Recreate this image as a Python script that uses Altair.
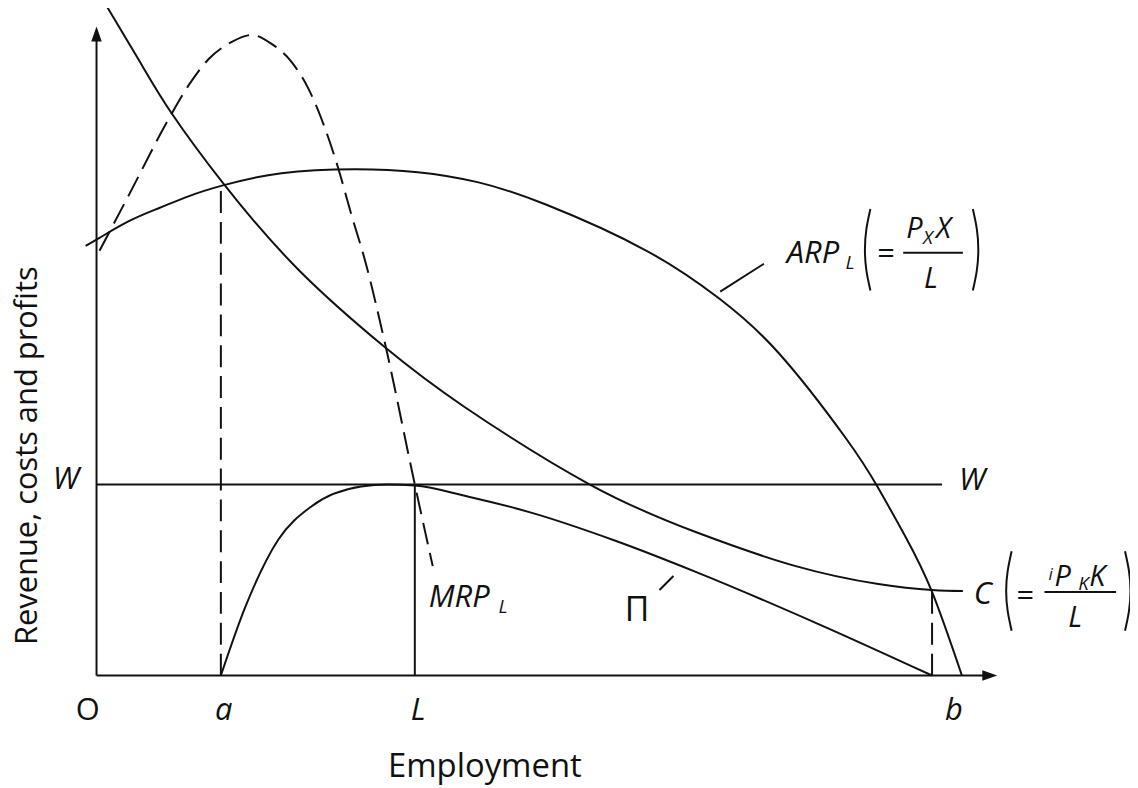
import altair as alt
import pandas as pd

# ---- curve data: employment (x) and revenue/cost value (y) ----
C_EMP = [6, 43, 75, 128, 203, 290, 370, 496, 603, 703, 786, 840, 871]
C_VAL = [680, 618, 566, 494, 408, 330, 270, 192, 144, 110, 92, 86, 85]
ARP_EMP = [-11, 3, 33, 63, 93, 128, 186, 260, 323, 383, 453, 553, 626, 686, 753, 785, 813, 840, 870]
ARP_VAL = [432, 440, 457, 470, 482, 493, 505, 509, 506, 496, 473, 427, 379, 324, 239, 190, 140, 84, 0]
MRP_EMP = [3, 33, 75, 93, 113, 136, 156, 176, 196, 213, 226, 243, 256, 270, 290, 320, 338]
MRP_VAL = [427, 484, 564, 594, 620, 637, 644, 635, 617, 590, 560, 510, 464, 417, 334, 192, 110]
PI_EMP = [125, 150, 183, 216, 266, 293, 320, 373, 436, 523, 603, 723, 840]
PI_VAL = [0, 70, 137, 170, 190, 192, 191, 180, 164, 135, 104, 53, 0]
W_LEVEL = 192
A_EMP, L_EMP, B_EMP = 125, 320, 840
A_TOP = 492      # ARP at a
B_TOP = 86       # C at b
X_AXIS_END = 893
Y_AXIS_END = 645

# straight segments: (id, emp0, val0, emp1, val1)
SOLID_SEGS = [
    ("yaxis", 0, 0, 0, Y_AXIS_END),
    ("xaxis", 0, 0, X_AXIS_END, 0),
    ("W", 0, W_LEVEL, 850, W_LEVEL),
    ("Lvert", L_EMP, 0, L_EMP, W_LEVEL),
    ("arp_lead", 627, 386, 671, 414),
    ("pi_lead", 566, 86, 580, 100),
    ("frac1", 811, 425, 871, 425),
    ("frac2", 953, 84, 1025, 84),
]
DASH_SEGS = [
    ("avert", A_EMP, 0, A_EMP, A_TOP),
    ("bvert", B_EMP, 0, B_EMP, B_TOP),
]
# parentheses drawn as thin arcs: id, emp list, val list
PARENS = [
    ("p1", [778, 774, 772.5, 774, 778], [469, 449, 428, 407, 387]),
    ("p2", [881, 885, 886.5, 885, 881], [469, 449, 428, 407, 387]),
    ("p3", [920, 916, 914.5, 916, 920], [125, 105, 85, 65, 45]),
    ("p4", [1034, 1038, 1039.5, 1038, 1034], [125, 105, 85, 65, 45]),
]

# labels: text, emp (left edge), val (baseline), font size
ITALIC_LABELS = [
    ("W", -44, 188, 31), ("W", 867, 187, 31),
    ("a", 119, -45, 31), ("L", 316, -45, 31), ("b", 853, -45, 31),
    ("MRP", 334, 69, 31), ("L", 404, 63, 19),
    ("ARP", 694, 415, 31), ("L", 753, 409, 19),
    ("P", 814, 440, 29), ("X", 831, 434, 19), ("X", 844, 440, 29), ("L", 832, 390, 29),
    ("C", 882, 72, 31),
    ("i", 957, 96, 17), ("P", 963, 90, 29), ("K", 987, 86, 19), ("K", 998, 90, 29),
    ("L", 977, 49, 29),
]
UPRIGHT_LABELS = [
    ("O", -21, -45, 31), ("Π", 531, 55, 34),
    ("=", 785, 414, 31), ("=", 925, 70, 31),
    ("Employment", 293, -102, 33),
]
Y_TITLE = ("Revenue, costs and profits", -60, 221, 31)

FONT = "Open Sans"
INK = "#111111"
WEIGHT = 500

xs = alt.Scale(domain=[-89, 1039], nice=False, zero=False)
ys = alt.Scale(domain=[-111, 669], nice=False, zero=False)
X = alt.X("emp:Q", scale=xs, axis=None)
Y = alt.Y("val:Q", scale=ys, axis=None)

smooth = pd.DataFrame(
    [{"id": "C", "emp": e, "val": v} for e, v in zip(C_EMP, C_VAL)]
    + [{"id": "ARP", "emp": e, "val": v} for e, v in zip(ARP_EMP, ARP_VAL)]
)
pi = pd.DataFrame({"id": "PI", "emp": PI_EMP, "val": PI_VAL})
mrp = pd.DataFrame({"id": "MRP", "emp": MRP_EMP, "val": MRP_VAL})


def seg_frame(segs):
    rows = []
    for sid, e0, v0, e1, v1 in segs:
        rows.append({"id": sid, "k": 0, "emp": e0, "val": v0})
        rows.append({"id": sid, "k": 1, "emp": e1, "val": v1})
    return pd.DataFrame(rows)


solid = seg_frame(SOLID_SEGS)
dashed = seg_frame(DASH_SEGS)
parens = pd.DataFrame(
    [{"id": pid, "k": i, "emp": e, "val": v}
     for pid, es, vs in PARENS for i, (e, v) in enumerate(zip(es, vs))]
)
ital = pd.DataFrame(ITALIC_LABELS, columns=["text", "emp", "val", "fs"])
upr = pd.DataFrame(UPRIGHT_LABELS, columns=["text", "emp", "val", "fs"])
ytitle = pd.DataFrame([Y_TITLE], columns=["text", "emp", "val", "fs"])
arrows_up = pd.DataFrame({"emp": [0], "val": [Y_AXIS_END]})
arrows_right = pd.DataFrame({"emp": [X_AXIS_END + 5], "val": [0]})

smooth_layer = alt.Chart(smooth).mark_line(
    interpolate="natural", strokeWidth=2, color=INK
).encode(x=X, y=Y, detail="id:N", order=alt.Order("emp:Q"))

pi_layer = alt.Chart(pi).mark_line(
    interpolate="monotone", strokeWidth=2, color=INK
).encode(x=X, y=Y, order=alt.Order("emp:Q"))

mrp_layer = alt.Chart(mrp).mark_line(
    interpolate="monotone", strokeWidth=2, color=INK, strokeDash=[22, 9]
).encode(x=X, y=Y, order=alt.Order("emp:Q"))

solid_layer = alt.Chart(solid).mark_line(strokeWidth=2, color=INK).encode(
    x=X, y=Y, detail="id:N", order=alt.Order("k:Q")
)
dash_layer = alt.Chart(dashed).mark_line(
    strokeWidth=2, color=INK, strokeDash=[22, 9]
).encode(x=X, y=Y, detail="id:N", order=alt.Order("k:Q"))

paren_layer = alt.Chart(parens).mark_line(
    interpolate="natural", strokeWidth=2, color=INK
).encode(x=X, y=Y, detail="id:N", order=alt.Order("k:Q"))

up_arrow = alt.Chart(arrows_up).mark_point(
    shape="M0,-1L0.7,1L-0.7,1Z", size=225, filled=True, opacity=1, color=INK
).encode(x=X, y=Y)
right_arrow = alt.Chart(arrows_right).mark_point(
    shape="M1,0L-1,-0.7L-1,0.7Z", size=225, filled=True, opacity=1, color=INK
).encode(x=X, y=Y)

ital_layer = alt.Chart(ital).mark_text(
    font=FONT, fontStyle="italic", fontWeight=WEIGHT, align="left",
    baseline="alphabetic", color=INK
).encode(x=X, y=Y, text="text:N", size=alt.Size("fs:Q", scale=None))

upr_layer = alt.Chart(upr).mark_text(
    font=FONT, fontWeight=WEIGHT, align="left", baseline="alphabetic", color=INK
).encode(x=X, y=Y, text="text:N", size=alt.Size("fs:Q", scale=None))

ytitle_layer = alt.Chart(ytitle).mark_text(
    font=FONT, fontWeight=WEIGHT, align="center", baseline="alphabetic",
    angle=270, color=INK
).encode(x=X, y=Y, text="text:N", size=alt.Size("fs:Q", scale=None))

chart = alt.layer(
    smooth_layer, pi_layer, mrp_layer, solid_layer, dash_layer, paren_layer,
    up_arrow, right_arrow, ital_layer, upr_layer, ytitle_layer
).properties(
    width=1128, height=780, padding=0, background="white",
    autosize=alt.AutoSizeParams(type="none")
).configure_view(stroke="transparent", strokeWidth=0)

chart.save("out.html", embed_options={"renderer": "svg", "actions": False})
